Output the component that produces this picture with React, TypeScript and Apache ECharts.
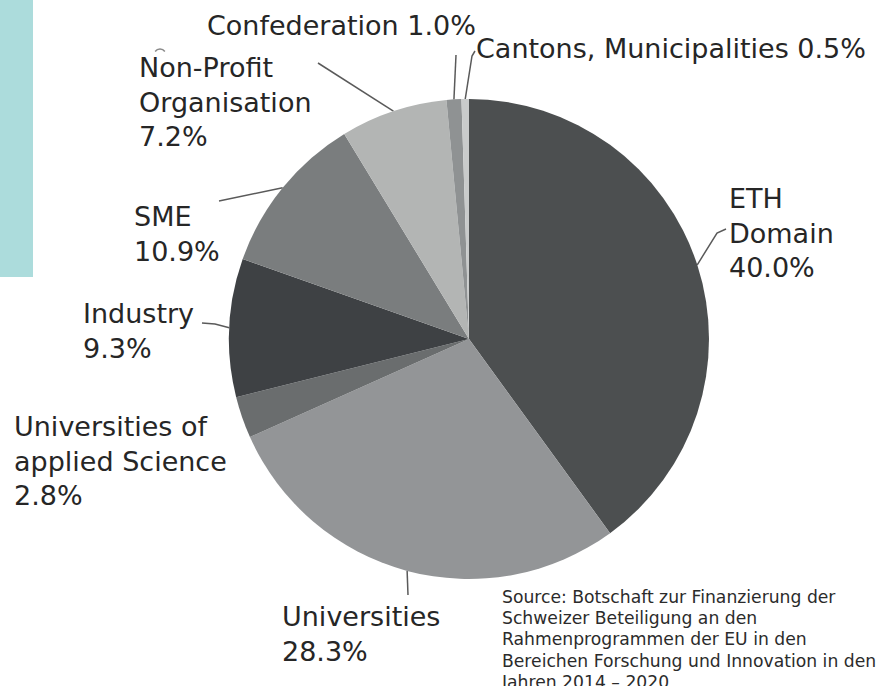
import React, { useEffect, useRef } from "react";
import * as echarts from "echarts";

// ---- data ----
const categories = [
  "ETH Domain",
  "Universities",
  "Universities of applied Science",
  "Industry",
  "SME",
  "Non-Profit Organisation",
  "Confederation",
  "Cantons, Municipalities",
];
const labelNames = [
  "ETH\nDomain",
  "Universities",
  "Universities of\napplied Science",
  "Industry",
  "SME",
  "Non-Profit\nOrganisation",
  "Confederation",
  "Cantons, Municipalities",
];
const labelSeparators = ["\n", "\n", "\n", "\n", "\n", "\n", " ", " "];
const values = [40.0, 28.3, 2.8, 9.3, 10.9, 7.2, 1.0, 0.5];
const sourceLines = [
  "Source: Botschaft zur Finanzierung der",
  "Schweizer Beteiligung an den",
  "Rahmenprogrammen der EU in den",
  "Bereichen Forschung und Innovation in den",
  "Jahren 2014 \u2013 2020",
];

// ---- styles / layout ----
const sliceColors = [
  "#4c4f50",
  "#939597",
  "#6a6d6e",
  "#3e4144",
  "#7a7d7e",
  "#b3b5b4",
  "#8f9293",
  "#c9cbcb",
];
const CX = 469;
const CY = 339;
const R = 240;
const LABEL_LH = 34.3;
const FONT = "DejaVu Sans";
// label anchor: [left x, first line centre y]
const labelAnchors: [number, number][] = [
  [729, 199],
  [282, 617],
  [14, 427],
  [83, 314],
  [134, 217],
  [139, 68],
  [207, 26],
  [476, 49],
];
// extra label-line points after the start point on the pie edge
const leaderTails: ([number, number][] | null)[] = [
  [[717, 233], [726, 229]],
  [[408, 595], [408, 595]],
  null,
  [[215, 324], [202, 323]],
  [[219, 201], [219, 201]],
  [[318, 63], [318, 63]],
  [[456, 55], [456, 55]],
  [[472, 56], [475, 51]],
];

export default function App() {
  const ref = useRef<HTMLDivElement>(null);
  useEffect(() => {
    document.body.style.margin = "0";
    if (!ref.current) return;
    const chart = echarts.init(ref.current, undefined, { renderer: "svg" });
    const total = values.reduce((a, b) => a + b, 0);
    const midAngles: number[] = [];
    let acc = 0;
    values.forEach((v) => {
      midAngles.push(((acc + v / 2) / total) * Math.PI * 2);
      acc += v;
    });

    chart.setOption({
      animation: false,
      backgroundColor: "#ffffff",
      graphic: [
        {
          type: "rect",
          shape: { x: 0, y: 0, width: 33, height: 277 },
          style: { fill: "#acdcdc" },
          z: 0,
        },
        {
          type: "arc",
          shape: { cx: 160, cy: 55, r: 6, startAngle: -Math.PI * 0.8, endAngle: -Math.PI * 0.2 },
          style: { stroke: "#8a8a8a", lineWidth: 1.5, fill: "none" },
        },
        {
          type: "text",
          x: 502,
          y: 586,
          style: {
            text: sourceLines.join("\n"),
            font: `17.2px "${FONT}"`,
            fontFamily: FONT,
            fontSize: 17.2,
            lineHeight: 21.3,
            fill: "#2b2b2b",
            textAlign: "left",
            textVerticalAlign: "top",
          },
        },
      ],
      series: [
        {
          type: "pie",
          center: [CX, CY],
          radius: R,
          startAngle: 90,
          clockwise: true,
          avoidLabelOverlap: false,
          itemStyle: { borderWidth: 0 },
          emphasis: { disabled: true },
          data: categories.map((name, i) => ({
            name,
            value: values[i],
            itemStyle: { color: sliceColors[i] },
            labelLine: { show: leaderTails[i] !== null },
          })),
          label: {
            show: true,
            position: "outside",
            formatter: (p: any) =>
              `${labelNames[p.dataIndex]}${labelSeparators[p.dataIndex]}${values[p.dataIndex].toFixed(1)}%`,
            fontFamily: FONT,
            fontSize: 27,
            lineHeight: LABEL_LH,
            color: "#262626",
            align: "left",
          },
          labelLine: {
            show: true,
            length: 10,
            length2: 10,
            lineStyle: { color: "#5a5a5a", width: 1.5 },
          },
          labelLayout: (params: any) => {
            const i = params.dataIndex;
            const [lx, ly] = labelAnchors[i];
            const a = midAngles[i];
            const start: [number, number] = [CX + R * Math.sin(a), CY - R * Math.cos(a)];
            const tail = leaderTails[i];
            const out: any = {
              x: lx,
              y: ly - LABEL_LH / 2,
              align: "left",
              verticalAlign: "top",
            };
            if (tail) out.labelLinePoints = [start, tail[0], tail[1]];
            return out;
          },
        },
      ],
    });
    return () => chart.dispose();
  }, []);
  return <div ref={ref} style={{ width: 885, height: 686 }} />;
}
